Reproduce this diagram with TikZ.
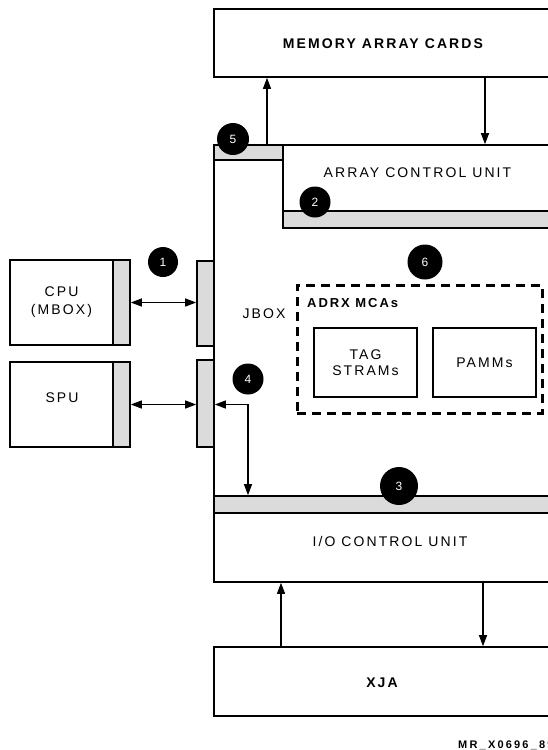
\documentclass[tikz,border=0pt]{standalone}
\usepackage{fontspec}
\setmainfont{Liberation Sans}
\newfontfamily\lsf[LetterSpace=15]{Liberation Sans}
\newfontfamily\wsf[LetterSpace=20]{Liberation Sans}
\usetikzlibrary{arrows.meta}
\begin{document}
\begin{tikzpicture}[x=1pt,y=-1pt,
  box/.style={draw, line width=1.6pt, inner sep=0pt, fill=white},
  strip/.style={draw, line width=1.6pt, inner sep=0pt, fill=black!14},
  num/.style={circle, fill=black, text=white, inner sep=0pt, font=\fontsize{12}{12}\selectfont},
  lbl/.style={font=\lsf\fontsize{14}{18}\selectfont, align=center, inner sep=0pt},
  blbl/.style={font=\lsf\bfseries\fontsize{14}{18}\selectfont, align=center, inner sep=0pt},
  tip/.tip={Triangle[length=11pt,width=8pt]},
  arr/.style={line width=1.1pt, -tip},
  darr/.style={line width=1.1pt, tip-tip},
  dashbox/.style={draw, line width=3pt, dash pattern=on 9pt off 6pt, inner sep=0pt}
]
\useasboundingbox (0,0) rectangle (548,750);
\clip (0,0) rectangle (548,750);
\coordinate (xa) at (267,0);
\coordinate (xb) at (485,0);
\coordinate (xc) at (281,0);
\coordinate (xd) at (483,0);
\coordinate (xe) at (248,0);

% main boxes
\node[box, minimum width=338, minimum height=68] (mem) at (383,43) {};
\node[blbl] (memlbl) at (383,44) {MEMORY ARRAY CARDS};
\node[box, minimum width=338, minimum height=437] (jbox) at (383,363.5) {};
\node[strip, minimum width=69, minimum height=15] (bar5) at (248.5,152.5) {};
\node[box, minimum width=269, minimum height=83] (acu) at (417.5,186.5) {};
\node[strip, minimum width=269, minimum height=17] (acus) at (417.5,219.5) {};
\node[lbl] (aculbl) at (417.5,173) {ARRAY CONTROL UNIT};
\node[strip, minimum width=338, minimum height=17] (ios) at (383,504.5) {};
\node[box, minimum width=338, minimum height=69] (io) at (383,547.5) {};
\node[lbl] (iolbl) at (390,541) {I/O CONTROL UNIT};
\node[box, minimum width=338, minimum height=69] (xja) at (383,681.5) {};
\node[blbl] (xjalbl) at (382,683) {XJA};

% left side
\node[box, minimum width=103, minimum height=85, lbl] (cpu) at (61.5,302.5) {CPU\\(MBOX)};
\node[strip, minimum width=17, minimum height=85] (cpus) at (121.5,302.5) {};
\node[box, minimum width=103, minimum height=85] (spu) at (61.5,404.5) {};
\node[lbl] (spulbl) at (62,397.5) {SPU};
\node[strip, minimum width=17, minimum height=85] (spus) at (121.5,404.5) {};
\node[strip, minimum width=17, minimum height=85] (js1) at (205.5,303.5) {};
\node[strip, minimum width=17, minimum height=87] (js2) at (205.5,403.5) {};
\node[lbl] (jboxlbl) at (264,314) {JBOX};

% ADRX MCAs
\node[dashbox, minimum width=245, minimum height=128] (adrx) at (419.5,349) {};
\node[blbl, anchor=west, font=\lsf\bfseries\fontsize{13}{16}\selectfont] (adrxlbl) at (307,303) {ADRX MCAs};
\node[box, minimum width=103, minimum height=69, lbl, font=\lsf\fontsize{14}{16}\selectfont] (tag) at (365.5,362.5) {TAG\\STRAMs};
\node[box, minimum width=103, minimum height=69, lbl] (pamms) at (484.5,362.5) {PAMMs};

% connectors
\draw[arr] (bar5.north -| xa) -- (mem.south -| xa);
\draw[arr] (mem.south -| xb) -- (acu.north -| xb);
\draw[darr] (cpus.east) -- (cpus.east -| js1.west);
\draw[darr] (spus.east) -- (spus.east -| js2.west);
\draw[darr] (spus.east -| js2.east) -| (ios.north -| xe);
\draw[arr] (xja.north -| xc) -- (io.south -| xc);
\draw[arr] (io.south -| xd) -- (xja.north -| xd);

% numbered circles
\node[num, minimum size=32] (n5) at (233,139) {5};
\node[num, minimum size=31] (n2) at (315,202) {2};
\node[num, minimum size=30] (n1) at (163,262) {1};
\node[num, minimum size=31] (n4) at (248,379) {4};
\node[num, minimum size=35] (n6) at (425,262) {6};
\node[num, minimum size=38] (n3) at (399,486) {3};

\node[anchor=west, inner sep=0pt, font=\wsf\bfseries\fontsize{11}{12}\selectfont] (mr) at (458,745) {MR\_X0696\_89};
\end{tikzpicture}
\end{document}
